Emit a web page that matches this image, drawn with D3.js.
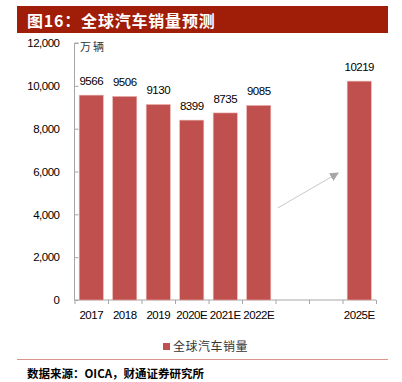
<!DOCTYPE html>
<html>
<head>
<meta charset="utf-8">
<script src="https://cdn.jsdelivr.net/npm/d3@7"></script>
<style>
	body { margin: 0; background: #fff; }
	svg { display: block; }
	.num { font-family: "Liberation Sans", Arial, sans-serif; font-size: 11.5px; letter-spacing: -0.5px; fill: #000; }
	.cjk { font-family: "Noto Sans CJK SC", sans-serif; }
</style>
</head>
<body>
<div id="chart"></div>
<script>
// data
const years = ["2017", "2018", "2019", "2020E", "2021E", "2022E", "2023E", "2024E", "2025E"];
const yearLabels = ["2017", "2018", "2019", "2020E", "2021E", "2022E", "", "", "2025E"];
const sales = [9566, 9506, 9130, 8399, 8735, 9085, null, null, 10219];
const yTicks = [0, 2000, 4000, 6000, 8000, 10000, 12000];
// arrow: [band position, value]
const arrowFrom = [6.07, 4300];
const arrowTo = [7.87, 5930];

const size = { width: 402, height: 382 };
const plot = { left: 74.5, right: 376, top: 43, bottom: 300 };

const scale = {
	years: d3.scaleBand().domain(years).range([plot.left, plot.right]).paddingInner(0.28).paddingOuter(0.14),
	pos: d3.scaleLinear().domain([0, years.length]).range([plot.left, plot.right]),
	sales: d3.scaleLinear().domain([0, 12000]).range([plot.bottom, plot.top])
};

const $svg = d3.select("#chart").append("svg")
	.attr("width", size.width)
	.attr("height", size.height);

// title bar
$svg.append("rect")
	.attr("x", 17).attr("y", 6)
	.attr("width", 371).attr("height", 27)
	.attr("fill", "#a01d08");
$svg.append("text")
	.attr("class", "cjk")
	.attr("x", 27).attr("y", 27)
	.attr("font-size", 16).attr("font-weight", "bold")
	.attr("letter-spacing", 0.8)
	.attr("fill", "#fff")
	.text("图16：全球汽车销量预测");

// y axis
const yAxis = d3.axisLeft(scale.sales)
	.tickValues(yTicks)
	.tickSize(-4)
	.tickPadding(15)
	.tickFormat(d3.format(","));
const $y = $svg.append("g")
	.attr("transform", `translate(${plot.left},0)`)
	.call(yAxis);
$y.select(".domain").attr("stroke", "#a6a6a6").attr("d", `M4,${plot.top}H0V${plot.bottom}`);
$y.selectAll(".tick line").attr("stroke", "#a6a6a6");
$y.selectAll(".tick text").attr("class", "num").attr("font-size", null).attr("font-family", null);

// x axis
const xAxis = d3.axisBottom(scale.pos)
	.tickValues(d3.range(years.length + 1))
	.tickSize(4)
	.tickFormat("");
const $x = $svg.append("g")
	.attr("transform", `translate(0,${plot.bottom})`)
	.call(xAxis);
$x.select(".domain").attr("stroke", "#a6a6a6").attr("d", `M${plot.left},0H${plot.right}`);
$x.selectAll(".tick line").attr("stroke", "#a6a6a6");

$svg.append("g")
	.selectAll("text")
	.data(years)
	.join("text")
	.attr("class", "num")
	.attr("x", (d) => scale.years(d) + scale.years.bandwidth() / 2)
	.attr("y", plot.bottom + 19)
	.attr("text-anchor", "middle")
	.text((d, i) => yearLabels[i]);

// unit
$svg.append("text")
	.attr("class", "cjk")
	.attr("x", 80).attr("y", 51)
	.attr("font-size", 11)
	.attr("letter-spacing", 2)
	.attr("fill", "#333")
	.text("万辆");

// bars
const data = years.map((y, i) => ({ year: y, value: sales[i] })).filter((d) => d.value != null);

$svg.append("g")
	.selectAll("rect")
	.data(data)
	.join("rect")
	.attr("x", (d) => scale.years(d.year))
	.attr("y", (d) => scale.sales(d.value))
	.attr("width", scale.years.bandwidth())
	.attr("height", (d) => scale.sales(0) - scale.sales(d.value))
	.attr("fill", "#c0504d")
	.attr("stroke", "#e9b3b1")
	.attr("stroke-width", 0.6);

$svg.append("g")
	.selectAll("text")
	.data(data)
	.join("text")
	.attr("class", "num")
	.attr("x", (d) => scale.years(d.year) + scale.years.bandwidth() / 2)
	.attr("y", (d) => scale.sales(d.value) - 10)
	.attr("text-anchor", "middle")
	.text((d) => d.value);

// arrow
$svg.append("defs").append("marker")
	.attr("id", "head")
	.attr("viewBox", "0 0 10 10")
	.attr("refX", 9).attr("refY", 5)
	.attr("markerWidth", 9).attr("markerHeight", 9)
	.attr("markerUnits", "userSpaceOnUse")
	.attr("orient", "auto")
	.append("path")
	.attr("d", "M0,0L10,5L0,10Z")
	.attr("fill", "#a6a6a6");

$svg.append("line")
	.attr("x1", scale.pos(arrowFrom[0])).attr("y1", scale.sales(arrowFrom[1]))
	.attr("x2", scale.pos(arrowTo[0])).attr("y2", scale.sales(arrowTo[1]))
	.attr("stroke", "#c8c8c8")
	.attr("stroke-width", 1)
	.attr("marker-end", "url(#head)");

// legend
$svg.append("rect")
	.attr("x", 163).attr("y", 343)
	.attr("width", 7).attr("height", 7)
	.attr("fill", "#c0504d");
$svg.append("text")
	.attr("class", "cjk")
	.attr("x", 173).attr("y", 351)
	.attr("font-size", 12)
	.attr("fill", "#333")
	.attr("letter-spacing", 0.5)
	.text("全球汽车销量");

// footer
$svg.append("line")
	.attr("x1", 17).attr("x2", 388)
	.attr("y1", 359.5).attr("y2", 359.5)
	.attr("stroke", "#d9958a")
	.attr("stroke-width", 1);
$svg.append("text")
	.attr("class", "cjk")
	.attr("x", 27).attr("y", 378)
	.attr("font-size", 11.5).attr("font-weight", "bold")
	.attr("fill", "#000")
	.text("数据来源：OICA，财通证券研究所");
</script>
</body>
</html>
